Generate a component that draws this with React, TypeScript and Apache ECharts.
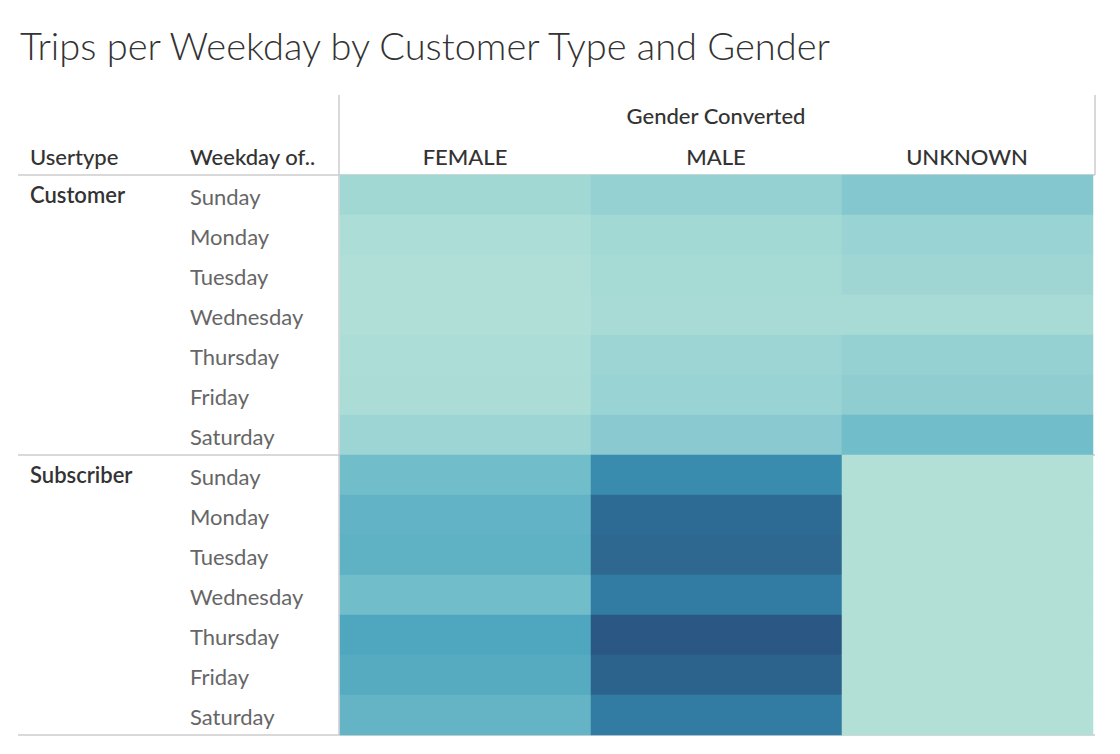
import React, { useEffect, useRef } from "react";
import * as echarts from "echarts";

const genders = ["FEMALE", "MALE", "UNKNOWN"];
const weekdays = ["Sunday", "Monday", "Tuesday", "Wednesday", "Thursday", "Friday", "Saturday"];
const usertypes = ["Customer", "Subscriber"];
// trips (thousands, estimated) per [usertype][gender][weekday]
const customerFemale = [18, 12, 10, 9, 12, 13, 20];
const customerMale = [24, 17, 16, 15, 20, 22, 30];
const customerUnknown = [32, 22, 19, 15, 24, 27, 40];
const subscriberFemale = [40, 47, 48, 40, 55, 52, 46];
const subscriberMale = [68, 88, 90, 78, 100, 93, 78];
const subscriberUnknown = [8, 8, 8, 8, 8, 8, 8];

export default function App() {
  const ref = useRef<HTMLDivElement>(null);
  useEffect(() => {
    const chart = echarts.init(ref.current!, null, { renderer: "svg" });
    const groups = [
      [customerFemale, customerMale, customerUnknown],
      [subscriberFemale, subscriberMale, subscriberUnknown],
    ];
    const rows: string[] = [];
    usertypes.forEach((u) => weekdays.forEach((d) => rows.push(u + "|" + d)));
    const data: number[][] = [];
    groups.forEach((g, ui) =>
      g.forEach((arr, gi) => arr.forEach((v, di) => data.push([gi, ui * 7 + di, v])))
    );
    const font = "Lato, 'Open Sans', sans-serif";
    const g: any[] = [];
    g.push({ type: "text", left: 20, top: 26, style: { text: "Trips per Weekday by Customer Type and Gender", font: "300 38px " + font, fill: "#333" } });
    g.push({ type: "text", x: 716, y: 115, style: { text: "Gender Converted", font: "500 22px " + font, fill: "#333", align: "center", verticalAlign: "middle" } });
    genders.forEach((gn, i) => g.push({ type: "text", x: 340 + 251 * i + 125, y: 156, style: { text: gn, font: "500 22px " + font, fill: "#333", align: "center", verticalAlign: "middle" } }));
    g.push({ type: "text", x: 30, y: 156, style: { text: "Usertype", font: "500 22px " + font, fill: "#333", verticalAlign: "middle" } });
    g.push({ type: "text", x: 190, y: 156, style: { text: "Weekday of..", font: "500 22px " + font, fill: "#333", verticalAlign: "middle" } });
    usertypes.forEach((u, ui) => {
      g.push({ type: "text", x: 30, y: 194 + ui * 280, style: { text: u, font: "600 22px " + font, fill: "#333", verticalAlign: "middle" } });
      weekdays.forEach((d, di) => g.push({ type: "text", x: 190, y: 196 + ui * 280 + di * 40, style: { text: d, font: "22px " + font, fill: "#666", verticalAlign: "middle" } }));
    });
    const ls = { stroke: "#ccc", lineWidth: 1.5 };
    g.push({ type: "line", shape: { x1: 18, y1: 175, x2: 1095, y2: 175 }, style: ls });
    g.push({ type: "line", shape: { x1: 18, y1: 455, x2: 1095, y2: 455 }, style: ls });
    g.push({ type: "line", shape: { x1: 18, y1: 735, x2: 1095, y2: 735 }, style: ls });
    g.push({ type: "line", shape: { x1: 339, y1: 95, x2: 339, y2: 735 }, style: ls });
    g.push({ type: "line", shape: { x1: 1095, y1: 95, x2: 1095, y2: 175 }, style: ls });
    chart.setOption({
      animation: false,
      grid: { left: 340, top: 175, width: 753, height: 560 },
      xAxis: { type: "category", data: genders, show: false },
      yAxis: { type: "category", data: rows, inverse: true, show: false },
      visualMap: {
        show: false, min: 0, max: 100, dimension: 2,
        inRange: { color: ["#bde5d9", "#a9dcd6", "#8ccbd0", "#6bb9c8", "#4aa3bd", "#3585ab", "#2f6f97", "#2a5783"] },
      },
      graphic: g,
      series: [{ type: "heatmap", data, itemStyle: { borderWidth: 0 } }],
    });
    return () => chart.dispose();
  }, []);
  return <div ref={ref} style={{ position: "fixed", left: 0, top: 0, width: 1120, height: 754, background: "#fff" }} />;
}
